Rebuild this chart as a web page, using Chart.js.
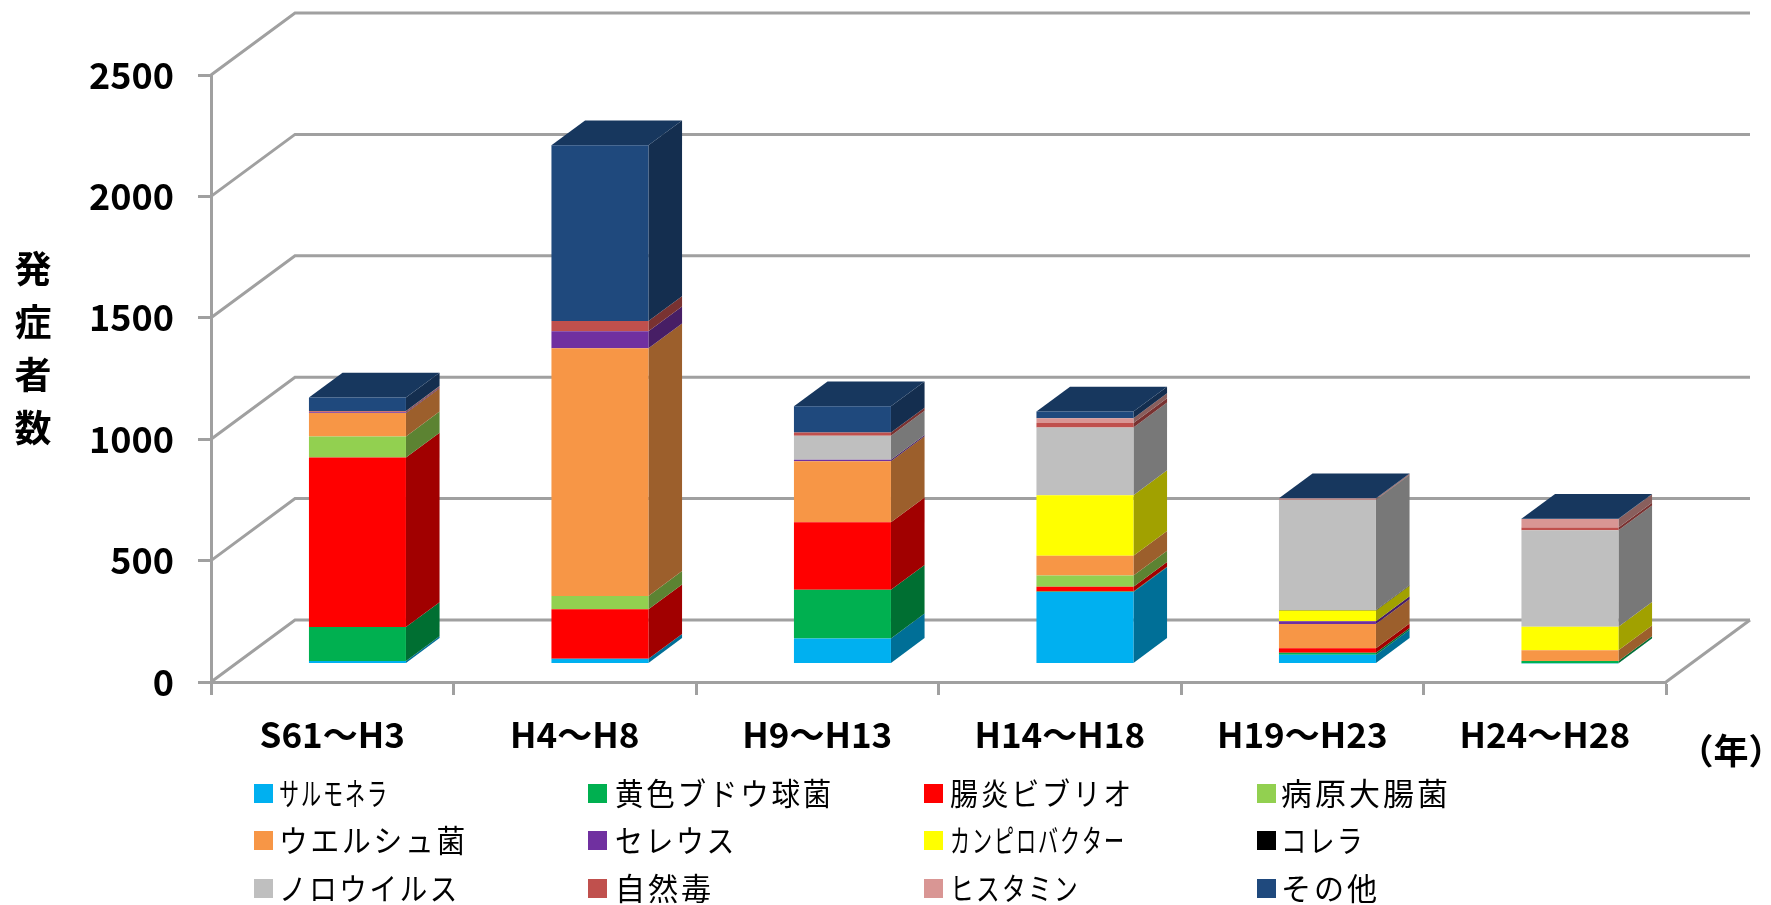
<!DOCTYPE html>
<html>
<head>
<meta charset="utf-8">
<title>発症者数</title>
<script src="https://cdn.jsdelivr.net/npm/chart.js@4/dist/chart.umd.min.js"></script>
<style>
  html, body { margin: 0; padding: 0; background: #fff; }
  canvas { display: block; }
</style>
</head>
<body>
<canvas id="myChart" width="1771" height="905"></canvas>
<script>
var categories = ["S61～H3", "H4～H8", "H9～H13", "H14～H18", "H19～H23", "H24～H28"]
var yTicks = [0, 500, 1000, 1500, 2000, 2500]
var yTitle = ["発", "症", "者", "数"]
var xUnit = "（年）"

var salmonella = [10, 19, 103, 294, 36, 1]
var staph      = [140, 0, 200, 2, 8, 9]
var vibrio     = [698, 204, 278, 20, 18, 0]
var ecoli      = [87, 55, 0, 46, 0, 0]
var welch      = [96, 1020, 252, 81, 100, 44]
var cereus     = [3, 70, 6, 0, 12, 0]
var campylo    = [0, 0, 0, 250, 44, 97]
var cholera    = [0, 0, 0, 0, 2, 0]
var norovirus  = [0, 0, 99, 279, 454, 397]
var natural    = [4, 42, 13, 18, 2, 12]
var histamine  = [2, 0, 0, 20, 3, 35]
var others     = [55, 724, 108, 27, 1, 1]

var seriesNames = ["サルモネラ", "黄色ブドウ球菌", "腸炎ビブリオ", "病原大腸菌", "ウエルシュ菌", "セレウス",
                   "カンピロバクター", "コレラ", "ノロウイルス", "自然毒", "ヒスタミン", "その他"]
var seriesValues = [salmonella, staph, vibrio, ecoli, welch, cereus, campylo, cholera, norovirus, natural, histamine, others]
var seriesColors = ["#00B0F0", "#00B050", "#FF0000", "#92D050", "#F79646", "#7030A0",
                    "#FFFF00", "#000000", "#BFBFBF", "#C0504D", "#D99694", "#1F497D"]

var FONT = '"Noto Sans CJK JP", "Noto Sans", sans-serif'
var GRID = "#A0A0A0"
var wallX = 84, wallY = -62      // depth of the 3D box
var barShift = 0.3, barDepth = 0.4

// legend text is squeezed to these widths, same order as seriesNames
var legendWidths = [110, 219, 184, 170, 189, 122, 176, 84, 181, 99, 130, 99]

function shade(hex, k) {
    var n = parseInt(hex.slice(1), 16)
    var r = Math.round((n >> 16) * k), g = Math.round(((n >> 8) & 255) * k), b = Math.round((n & 255) * k)
    return "rgb(" + r + "," + g + "," + b + ")"
}

function poly(ctx, pts, color) {
    ctx.fillStyle = color
    ctx.beginPath()
    ctx.moveTo(pts[0][0], pts[0][1])
    for (var i = 1; i < pts.length; i++) ctx.lineTo(pts[i][0], pts[i][1])
    ctx.closePath()
    ctx.fill()
}

var box3d = {
    id: "box3d",
    beforeDatasetsDraw: function(chart) {
        var ctx = chart.ctx, a = chart.chartArea, y = chart.scales.y
        // back wall and the left side lines
        ctx.save()
        ctx.strokeStyle = GRID
        ctx.lineWidth = 3
        yTicks.forEach(function(v) {
            var py = y.getPixelForValue(v)
            ctx.beginPath()
            ctx.moveTo(a.left, py)
            ctx.lineTo(a.left + wallX, py + wallY)
            ctx.lineTo(a.right + wallX, py + wallY)
            ctx.stroke()
        })
        // right edge of the floor
        ctx.beginPath()
        ctx.moveTo(a.right, a.bottom)
        ctx.lineTo(a.right + wallX, a.bottom + wallY)
        ctx.stroke()
        ctx.restore()

        // bars stand a bit inside the box
        ctx.save()
        ctx.translate(wallX * barShift, wallY * barShift)
        var dx = wallX * barDepth, dy = wallY * barDepth
        categories.forEach(function(c, i) {
            var top = null
            seriesValues.forEach(function(vals, s) {
                if (!vals[i]) return
                var el = chart.getDatasetMeta(s).data[i]
                var xr = el.x + el.width / 2
                poly(ctx, [[xr, el.y], [xr + dx, el.y + dy], [xr + dx, el.base + dy], [xr, el.base]], shade(seriesColors[s], 0.63))
                top = { el: el, s: s }
            })
            if (top) {
                var e = top.el, xl = e.x - e.width / 2, xr2 = e.x + e.width / 2
                poly(ctx, [[xl, e.y], [xl + dx, e.y + dy], [xr2 + dx, e.y + dy], [xr2, e.y]], shade(seriesColors[top.s], 0.75))
            }
        })
    },
    afterDatasetsDraw: function(chart) {
        chart.ctx.restore()
    },
    afterDraw: function(chart) {
        var ctx = chart.ctx
        ctx.save()
        // y axis title, one character per line
        ctx.fillStyle = "#000"
        ctx.font = "700 37px " + FONT
        ctx.textAlign = "center"
        ctx.textBaseline = "middle"
        yTitle.forEach(function(ch, i) {
            ctx.fillText(ch, 33, 269 + i * 53)
        })
        ctx.font = "700 35px " + FONT
        ctx.fillText(xUnit, 1731, 751)

        // legend, 4 columns
        var colSwatch = [254, 588, 924, 1257]
        var colText = [279, 615, 950, 1281]
        var rowY = [793, 840, 888]
        ctx.font = "400 31px " + FONT
        ctx.textAlign = "left"
        ctx.letterSpacing = "3px"
        seriesNames.forEach(function(name, i) {
            var yy = rowY[Math.floor(i / 4)]
            ctx.fillStyle = seriesColors[i]
            ctx.fillRect(colSwatch[i % 4], yy - 9, 19, 19)
            ctx.fillStyle = "#000"
            ctx.fillText(name, colText[i % 4], yy, legendWidths[i])
        })
        ctx.restore()
    }
}

var datasets = seriesNames.map(function(name, i) {
    return {
        label: name,
        data: seriesValues[i],
        backgroundColor: seriesColors[i],
        borderWidth: 0,
        clip: false
    }
})

var chart = new Chart(document.getElementById("myChart").getContext("2d"), {
    type: "bar",
    data: { labels: categories, datasets: datasets },
    plugins: [box3d],
    options: {
        responsive: false,
        animation: false,
        devicePixelRatio: 1,
        categoryPercentage: 0.4,
        barPercentage: 1,
        layout: { padding: { top: 75, right: 105, left: 0, bottom: 0 } },
        plugins: { legend: { display: false }, tooltip: { enabled: false } },
        scales: {
            x: {
                stacked: true,
                grid: { drawOnChartArea: false, color: GRID, tickLength: 13, tickWidth: 3 },
                border: { color: GRID, width: 3 },
                ticks: { color: "#000", font: { family: FONT, size: 35, weight: "700" }, padding: 19, maxRotation: 0, autoSkip: false },
                afterFit: function(s) { s.height = 905 - 682 }
            },
            y: {
                stacked: true,
                min: 0,
                max: 2500,
                afterBuildTicks: function(s) { s.ticks = yTicks.map(function(v) { return { value: v } }) },
                grid: { drawOnChartArea: false, color: GRID, tickLength: 13, tickWidth: 3 },
                border: { color: GRID, width: 3 },
                ticks: {
                    color: "#000",
                    font: { family: FONT, size: 36, weight: "700" },
                    padding: 24,
                    callback: function(v) { return String(v) }
                },
                afterFit: function(s) { s.width = 211 }
            }
        }
    }
})
</script>
</body>
</html>
